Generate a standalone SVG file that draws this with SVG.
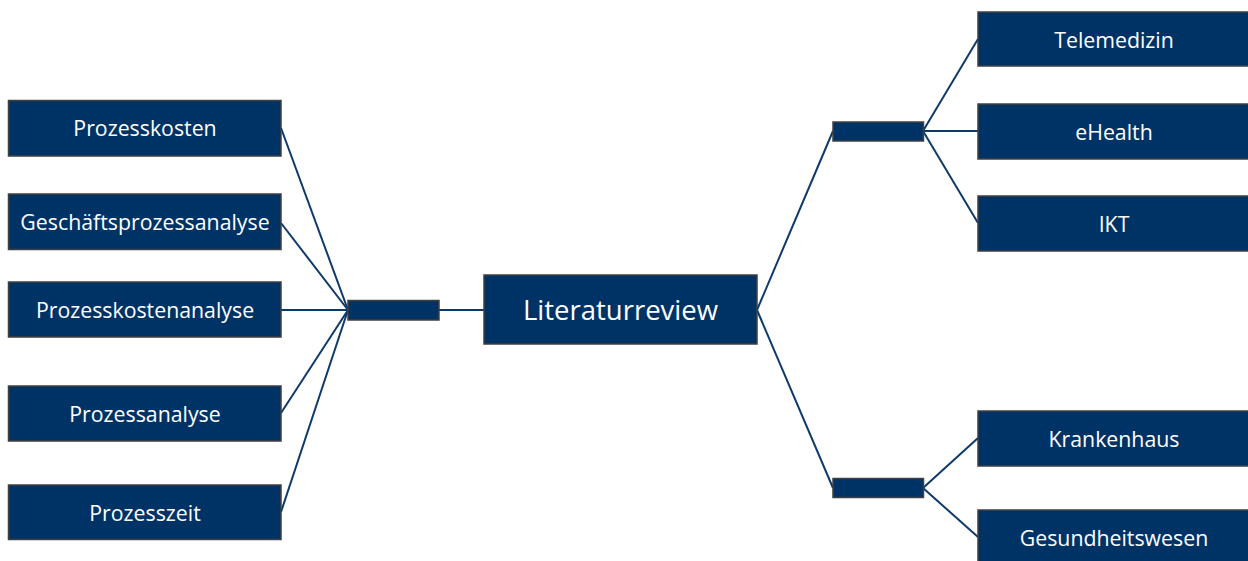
<svg xmlns="http://www.w3.org/2000/svg" width="1248" height="561" viewBox="0 0 1248 561">
<style>
.box{fill:#003365;stroke:#404040;stroke-width:1.5}
.hub{fill:#003365;stroke:#404040;stroke-width:1.5}
.t{fill:#ffffff;font-family:"Open Sans","Noto Sans",sans-serif;font-size:21.3px;text-anchor:middle}
.tb{fill:#ffffff;font-family:"Open Sans","Noto Sans",sans-serif;font-size:27.5px;text-anchor:middle}
.c{stroke:#0e3a6a;stroke-width:2;fill:none}
</style>
<rect width="1248" height="561" fill="#ffffff"/>
<g id="connectors">
<line class="c" x1="281" y1="128" x2="348" y2="310"/>
<line class="c" x1="281" y1="223" x2="348" y2="310"/>
<line class="c" x1="281" y1="310" x2="348" y2="310"/>
<line class="c" x1="281" y1="413" x2="348" y2="310"/>
<line class="c" x1="281" y1="512" x2="348" y2="310"/>
<line class="c" x1="439" y1="310" x2="484" y2="310"/>
<line class="c" x1="757" y1="310" x2="833" y2="131"/>
<line class="c" x1="757" y1="310" x2="833" y2="488"/>
<line class="c" x1="923" y1="131" x2="978" y2="39"/>
<line class="c" x1="923" y1="131" x2="978" y2="131"/>
<line class="c" x1="923" y1="131" x2="978" y2="223"/>
<line class="c" x1="923" y1="488" x2="978" y2="438"/>
<line class="c" x1="923" y1="488" x2="978" y2="537"/>
</g>
<g id="hub-left"><rect class="hub" x="348" y="300.5" width="91" height="19.5"/></g>
<g id="hub-upper"><rect class="hub" x="833" y="122" width="90.5" height="19"/></g>
<g id="hub-lower"><rect class="hub" x="833" y="478.5" width="90.5" height="19"/></g>
<g id="literaturreview"><rect class="box" x="484" y="275" width="273" height="69"/><text class="tb" x="620.5" y="320">Literaturreview</text></g>
<g id="prozesskosten"><rect class="box" x="8.5" y="100.5" width="272.5" height="55.5"/><text class="t" x="145" y="136">Prozesskosten</text></g>
<g id="geschaeftsprozessanalyse"><rect class="box" x="8.5" y="194" width="272.5" height="55.5"/><text class="t" x="145" y="230">Geschäftsprozessanalyse</text></g>
<g id="prozesskostenanalyse"><rect class="box" x="8.5" y="282" width="272.5" height="55"/><text class="t" x="145" y="317.5">Prozesskostenanalyse</text></g>
<g id="prozessanalyse"><rect class="box" x="8.5" y="386" width="272.5" height="55"/><text class="t" x="145" y="421.5">Prozessanalyse</text></g>
<g id="prozesszeit"><rect class="box" x="8.5" y="485" width="272.5" height="54.5"/><text class="t" x="145" y="520.5">Prozesszeit</text></g>
<g id="telemedizin"><rect class="box" x="978" y="12" width="275" height="54"/><text class="t" x="1114" y="47.5">Telemedizin</text></g>
<g id="ehealth"><rect class="box" x="978" y="104" width="275" height="55"/><text class="t" x="1114" y="139.5">eHealth</text></g>
<g id="ikt"><rect class="box" x="978" y="196" width="275" height="55"/><text class="t" x="1114" y="231.5">IKT</text></g>
<g id="krankenhaus"><rect class="box" x="978" y="411" width="275" height="55"/><text class="t" x="1114" y="446.5">Krankenhaus</text></g>
<g id="gesundheitswesen"><rect class="box" x="978" y="510" width="275" height="60"/><text class="t" x="1114" y="545.5">Gesundheitswesen</text></g>
</svg>
